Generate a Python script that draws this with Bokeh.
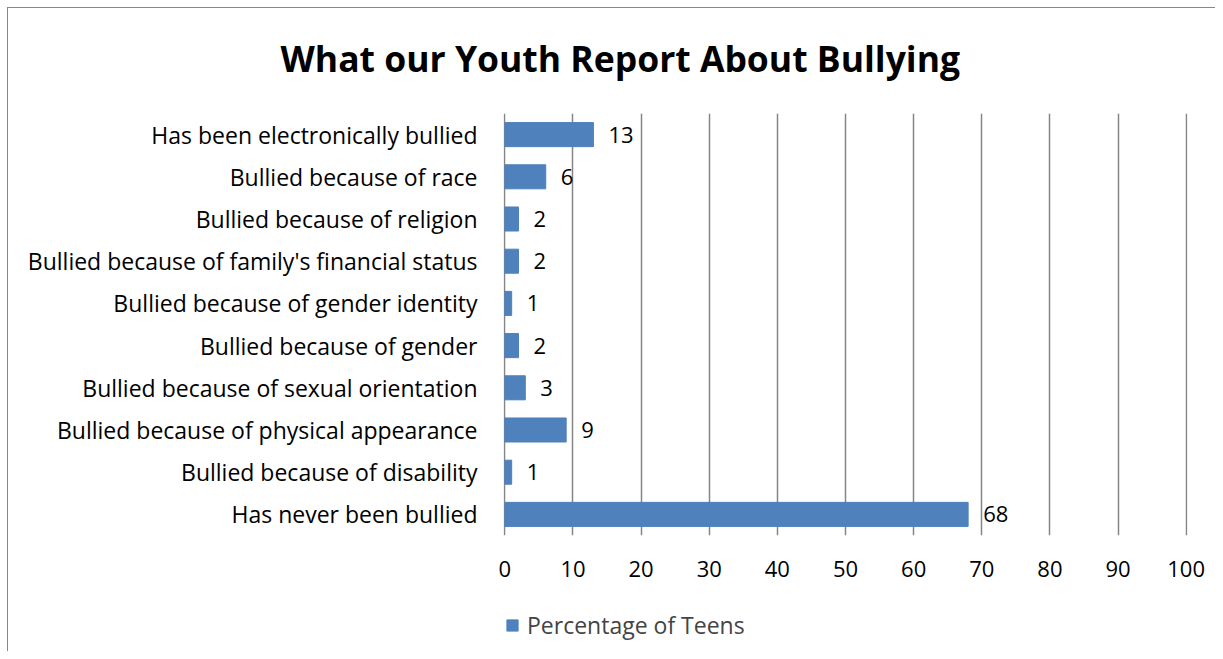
from bokeh.plotting import figure
from bokeh.layouts import column
from bokeh.models import (FactorRange, Range1d, FixedTicker, ColumnDataSource,
                          Legend, LegendItem)
from bokeh.embed import file_html
from bokeh.resources import INLINE
from bokeh.core.properties import value

title_text = "What our Youth Report About Bullying"
categories = [
    "Has been electronically bullied",
    "Bullied because of race",
    "Bullied because of religion",
    "Bullied because of family's financial status",
    "Bullied because of gender identity",
    "Bullied because of gender",
    "Bullied because of sexual orientation",
    "Bullied because of physical appearance",
    "Bullied because of disability",
    "Has never been bullied",
]
percentages = [13, 6, 2, 2, 1, 2, 3, 9, 1, 68]
x_ticks = [0, 10, 20, 30, 40, 50, 60, 70, 80, 90, 100]
series_name = "Percentage of Teens"

FONT = "Open Sans"
BAR = "#4F81BD"
BORDER = "#878787"

src = ColumnDataSource(dict(cat=categories, pct=percentages,
                            lbl=[str(v) for v in percentages]))

# ---------------- main chart ----------------
p = figure(width=1215, height=600,
           y_range=FactorRange(factors=categories[::-1]),
           x_range=Range1d(-0.2, 100.2),
           output_backend="svg", toolbar_location=None,
           min_border_left=503, min_border_right=28,
           min_border_top=112, min_border_bottom=65,
           title=title_text)
p.outline_line_color = None
p.background_fill_color = "white"
p.border_fill_color = None

p.title.align = "left"
p.title.offset = -223
p.title.vertical_align = "bottom"
p.title.standoff = 63
p.title.text_font = FONT
p.title.text_font_style = "bold"
p.title.text_font_size = "35.5px"
p.title.text_color = "black"

bars = p.hbar(y="cat", right="pct", left=0, height=0.57, source=src,
              fill_color=BAR, line_color=BAR)
p.text(x="pct", y="cat", text="lbl", source=src, x_offset=15,
       text_baseline="middle", text_align="left",
       text_font=value(FONT), text_font_size="22px", text_color="black")

p.ygrid.grid_line_color = None
p.xgrid.grid_line_color = "#858585"
p.xgrid.grid_line_width = 1.5
p.xaxis.ticker = FixedTicker(ticks=x_ticks)

for ax in (p.xaxis, p.yaxis):
    ax.axis_line_color = None
    ax.major_tick_line_color = None
    ax.minor_tick_line_color = None
    ax.major_label_text_font = FONT
    ax.major_label_text_color = "black"
p.xaxis.major_label_text_font_size = "22px"
p.yaxis.major_label_text_font_size = "23px"
p.xaxis.major_label_standoff = 19
p.yaxis.major_label_standoff = 20

# ---------------- legend strip ----------------
pl = figure(width=1215, height=51,
            y_range=FactorRange(factors=categories[::-1]),
            x_range=Range1d(0, 100),
            output_backend="svg", toolbar_location=None,
            min_border=0, x_axis_location=None, y_axis_location=None)
pl.grid.visible = False
pl.outline_line_color = None
pl.background_fill_color = None
pl.border_fill_color = None
key = pl.hbar(y="cat", right="pct", left=0, height=0.57, source=src,
              fill_color=BAR, line_color=BAR)
key.visible = False

legend = Legend(items=[LegendItem(label=series_name, renderers=[key])],
                location=(2, 10), orientation="horizontal",
                border_line_color=None, background_fill_alpha=0,
                inactive_fill_alpha=0,
                label_text_font=FONT, label_text_font_size="23px",
                glyph_width=14, glyph_height=14, padding=0, margin=0,
                label_standoff=8)
pl.add_layout(legend, "center")

root = column(p, pl, spacing=0)
root.styles = {
    "background": (f"linear-gradient({BORDER},{BORDER}) 7px 7px / 1px calc(100% - 7px) no-repeat, "
                   f"linear-gradient({BORDER},{BORDER}) 7px 7px / calc(100% - 7px) 1px no-repeat, "
                   "#ffffff"),
}

open("out.html", "w").write(file_html(root, INLINE))
